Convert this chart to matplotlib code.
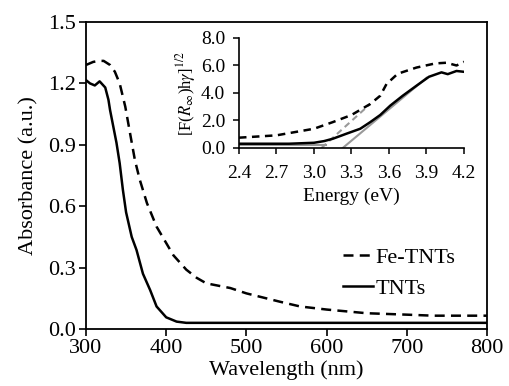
import numpy as np
import matplotlib
matplotlib.use('Agg')
import matplotlib.pyplot as plt

plt.rcParams['font.family'] = ['Liberation Serif', 'DejaVu Serif']
plt.rcParams['mathtext.fontset'] = 'stix'

# --- main panel: absorbance vs wavelength ---
fe_wl = [300, 309, 316, 322, 330, 336, 342, 349, 355, 361, 367, 376, 388, 400,
         409, 425, 438, 450, 480, 500, 542, 567, 600, 650, 700, 733, 800]
fe_abs = [1.29, 1.305, 1.31, 1.31, 1.29, 1.257, 1.20, 1.086, 0.955, 0.825, 0.73,
          0.615, 0.50, 0.42, 0.36, 0.29, 0.25, 0.223, 0.20, 0.174, 0.133, 0.11,
          0.095, 0.077, 0.07, 0.065, 0.065]

tnt_wl = [300, 305, 311, 317, 324, 328, 330, 334, 338, 342, 346, 350, 357, 363,
          371, 380, 388, 400, 413, 425, 500, 600, 700, 800]
tnt_abs = [1.216, 1.20, 1.19, 1.21, 1.18, 1.12, 1.07, 0.99, 0.91, 0.81, 0.68,
           0.57, 0.45, 0.386, 0.27, 0.19, 0.11, 0.057, 0.036, 0.03, 0.03, 0.03,
           0.03, 0.03]

main_xticks = [300, 400, 500, 600, 700, 800]
main_yticks = [0.0, 0.3, 0.6, 0.9, 1.2, 1.5]

# --- inset: Tauc plot ---
fe_e = [2.4, 2.7, 3.0, 3.15, 3.3, 3.45, 3.53, 3.58, 3.67, 3.82, 3.97, 4.06, 4.14, 4.2]
fe_f = [0.75, 0.92, 1.4, 1.88, 2.4, 3.2, 3.8, 4.65, 5.4, 5.85, 6.15, 6.2, 6.0, 6.27]

tnt_e = [2.4, 2.8, 3.0, 3.08, 3.15, 3.26, 3.37, 3.45, 3.53, 3.61, 3.71, 3.82,
         3.92, 4.02, 4.07, 4.14, 4.2]
tnt_f = [0.31, 0.31, 0.38, 0.5, 0.67, 1.04, 1.4, 1.88, 2.4, 3.08, 3.8, 4.53,
         5.18, 5.5, 5.37, 5.6, 5.54]

# linear extrapolations (gray)
fe_fit_e = [3.06, 3.45]
fe_fit_f = [0.0, 3.2]
tnt_fit_e = [3.23, 3.9]
tnt_fit_f = [0.0, 5.1]
base_e = [2.4, 3.1]
base_f = [0.2, 0.2]

inset_xticks = [2.4, 2.7, 3.0, 3.3, 3.6, 3.9, 4.2]
inset_yticks = [0.0, 2.0, 4.0, 6.0, 8.0]

fig = plt.figure(figsize=(5.10, 3.86), dpi=100)
ax = fig.add_axes([0.1686, 0.1477, 0.955 - 0.1686, 0.943 - 0.1477])

ax.plot(fe_wl, fe_abs, color='black', lw=1.8, ls=(0, (4, 2.5)), label='Fe-TNTs')
ax.plot(tnt_wl, tnt_abs, color='black', lw=1.8, label='TNTs')
ax.set_xlim(300, 800)
ax.set_ylim(0, 1.5)
ax.set_xticks(main_xticks)
ax.set_yticks(main_yticks)
ax.set_yticklabels([f'{v:.1f}' for v in main_yticks])
ax.tick_params(direction='out', labelsize=16, width=1.2, length=5, pad=2,
               top=False, right=False)
for s in ax.spines.values():
    s.set_linewidth(1.3)
ax.set_xlabel('Wavelength (nm)', fontsize=16, labelpad=2)
ax.set_ylabel('Absorbance (a.u.)', fontsize=16, labelpad=7)
ax.legend(loc='lower right', bbox_to_anchor=(0.97, 0.034), frameon=False,
          fontsize=16, handlelength=1.35, handletextpad=0.1, labelspacing=0.45)

ins = fig.add_axes([0.4686, 0.6166, 0.9098 - 0.4686, 0.9016 - 0.6166])
ins.plot(base_e, base_f, color='#999999', lw=1.5)
ins.plot(fe_fit_e, fe_fit_f, color='#999999', lw=1.5, ls=(0, (3, 2)))
ins.plot(tnt_fit_e, tnt_fit_f, color='#999999', lw=1.5)
ins.plot(fe_e, fe_f, color='black', lw=1.8, ls=(0, (3, 2.2)))
ins.plot(tnt_e, tnt_f, color='black', lw=1.8)
ins.set_xlim(2.4, 4.2)
ins.set_ylim(0, 8)
ins.set_xticks(inset_xticks)
ins.set_xticklabels([f'{v:.1f}' for v in inset_xticks])
ins.set_yticks(inset_yticks)
ins.set_yticklabels([f'{v:.1f}' for v in inset_yticks])
ins.spines['top'].set_visible(False)
ins.spines['right'].set_visible(False)
for s in ['left', 'bottom']:
    ins.spines[s].set_linewidth(1.2)
ins.tick_params(axis='x', direction='out', labelsize=14, width=1.1, length=4, pad=8)
ins.tick_params(axis='y', direction='out', labelsize=14, width=1.1, length=4, pad=6)
ins.set_xlabel('Energy (eV)', fontsize=14, labelpad=4)
ins.set_ylabel(r'[F($\mathit{R}_{\infty}$)h$\gamma$]$^{1/2}$', fontsize=12, labelpad=2)

fig.savefig('out.png', dpi=100)
